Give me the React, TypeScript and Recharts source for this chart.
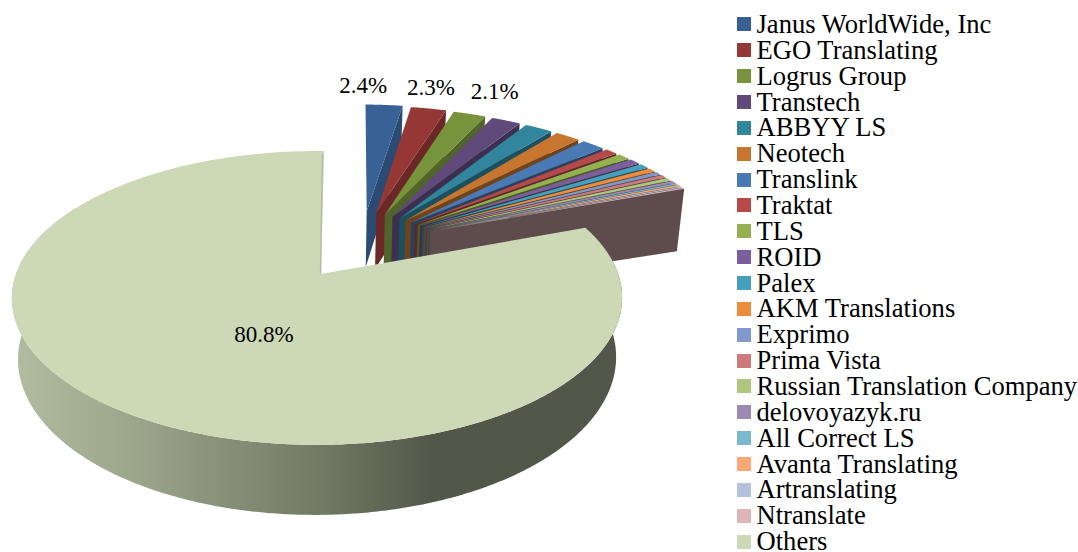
import { Legend, Pie, PieChart } from "recharts";

const companies = [
  "Janus WorldWide, Inc", "EGO Translating", "Logrus Group", "Transtech", "ABBYY LS", "Neotech", "Translink",
  "Traktat", "TLS", "ROID", "Palex", "AKM Translations", "Exprimo", "Prima Vista", "Russian Translation Company",
  "delovoyazyk.ru", "All Correct LS", "Avanta Translating", "Artranslating", "Ntranslate", "Others",
];
const shares = [2.4, 2.3, 2.1, 1.9, 1.8, 1.6, 1.5, 0.8, 0.8, 0.7, 0.6, 0.5, 0.4, 0.4, 0.4, 0.3, 0.2, 0.2, 0.15, 0.15, 80.8];
const colors = [
  "#386296", "#953735", "#77933c", "#604a7b", "#31859c", "#c6762f", "#4a7ab5", "#b54a48", "#93b150", "#7b5f9c",
  "#46a0bb", "#ec8c3d", "#7f9aca", "#cc7b7a", "#aec77f", "#9d87b4", "#79b8cf", "#f9a974", "#b2c1dd", "#deb5b4", "#cdd8b6",
];

const chartData = companies.map((name, i) => ({ name, value: shares[i], fill: colors[i] }));

// perspective of the tilted disc, in units of the pie radius
const FAR_K = 0.163;
const SIDE_K = 0.013;
const X_STRETCH = 2.105;
const DEPTH = 58.6;
const BASE_NARROW = 0.98;
const EXPLODE = 0.5;
const OTHERS_TURN = 0.7;
const LABEL_MIN = 2;
const RAD = Math.PI / 180;

type Pt = [number, number];

function project(cx: number, cy: number, radius: number, X: number, Y: number, lower = false, tall = false): Pt {
  const w = 1 + FAR_K * Y + SIDE_K * X;
  const dx = (radius * X_STRETCH * X) / w;
  const dy = (radius * Y) / w;
  if (!lower) return [cx + dx, cy - dy];
  const depth = (DEPTH * (tall ? 1 + 0.15 * X : 1)) / w;
  return [cx + dx * BASE_NARROW, cy - dy + depth];
}

function explodeOffset(midPhi: number): Pt {
  const dir = (17 + 0.49 * midPhi) * RAD;
  return [EXPLODE * Math.sin(dir), EXPLODE * Math.cos(dir)];
}

function arcPoints(from: number, to: number) {
  const out: number[] = [];
  const steps = Math.max(2, Math.ceil((to - from) * 2));
  for (let i = 0; i <= steps; i++) out.push(from + ((to - from) * i) / steps);
  return out;
}

const toPath = (pts: Pt[]) => "M" + pts.map((p) => p[0].toFixed(2) + " " + p[1].toFixed(2)).join("L") + "Z";

function shade(hex: string, f: number) {
  const n = parseInt(hex.slice(1), 16);
  const c = [(n >> 16) & 255, (n >> 8) & 255, n & 255].map((v) => Math.round(v * f));
  return `rgb(${c[0]},${c[1]},${c[2]})`;
}

function Slice3D(props: any) {
  const { cx, cy, outerRadius, startAngle, endAngle, fill, name } = props;
  const from = 90 - startAngle;
  const to = 90 - endAngle;

  if (name === "Others") {
    const top = (phi: number) => project(cx, cy, outerRadius, Math.sin(phi * RAD), Math.cos(phi * RAD));
    const low = (phi: number) => project(cx, cy, outerRadius, Math.sin(phi * RAD), Math.cos(phi * RAD), true);
    const arc = arcPoints(from + OTHERS_TURN, to + OTHERS_TURN);
    // the wall stops on the back left, where the top face hides it anyway
    const wallArc = arc.filter((phi) => phi < 300);
    const wall = [...wallArc.map(top), ...[...wallArc].reverse().map(low)];
    const face: Pt[] = [[cx, cy], ...arc.map(top)];
    return (
      <g>
        <defs>
          <linearGradient id="othersWall" gradientUnits="userSpaceOnUse" x1={18} x2={620} y1={0} y2={0}>
            <stop offset="0" stopColor="#b1bba0" />
            <stop offset="0.2" stopColor="#9ba58a" />
            <stop offset="0.5" stopColor="#727a64" />
            <stop offset="0.69" stopColor="#53574a" />
            <stop offset="1" stopColor="#53574a" />
          </linearGradient>
        </defs>
        <path d={toPath(wall)} fill="url(#othersWall)" />
        <path d={toPath(face)} fill={fill} />
        <path d={`M${cx + 1.5} ${cy - 120}L${cx - 0.5} ${cy}`} stroke="#b4bea3" strokeWidth={1.5} fill="none" />
      </g>
    );
  }

  const [ox, oy] = explodeOffset((from + to) / 2);
  // rims of the exploded slices sit slightly further out than the plain disc
  const rim = (phi: number, lower = false) =>
    project(cx, cy, outerRadius, ox + 0.02 + 1.02 * Math.sin(phi * RAD), oy + Math.cos(phi * RAD), lower, true);
  const apexTop = project(cx, cy, outerRadius, ox, oy);
  const apexLow = project(cx, cy, outerRadius, ox, oy, true, true);
  const light = 0.82 - (to / 69) * 0.4;
  const endWall: Pt[] = [apexTop, rim(to), rim(to, true), apexLow];
  const face: Pt[] = [apexTop, ...arcPoints(from, to).map((p) => rim(p))];
  return (
    <g>
      <path d={toPath(endWall)} fill={shade(fill, light)} />
      <path d={toPath(face)} fill={fill} />
    </g>
  );
}

const labelNudge: Record<string, Pt> = {
  "Janus WorldWide, Inc": [-17, -8],
  "EGO Translating": [3, -9],
  "Logrus Group": [23, -11],
  Others: [2, 20],
};

function SliceLabel(props: any) {
  const { cx, cy, outerRadius, startAngle, endAngle, name, value } = props;
  if (value < LABEL_MIN) return null;
  const midPhi = 90 - (startAngle + endAngle) / 2;
  const [ox, oy] = name === "Others" ? [0, 0] : explodeOffset(midPhi);
  const reach = name === "Others" ? 0.33 : 1.13;
  const pos = project(cx, cy, outerRadius, ox + reach * Math.sin(midPhi * RAD), oy + reach * Math.cos(midPhi * RAD));
  const n = labelNudge[name] ?? [0, 0];
  return (
    <text x={pos[0] + n[0]} y={pos[1] + n[1]} textAnchor="middle" dominantBaseline="central" fontSize={23} fill="#000">
      {value.toFixed(1)}%
    </text>
  );
}

function LegendList({ payload }: any) {
  return (
    <div>
      {(payload ?? []).map((p: any) => (
        <div key={p.value} style={{ height: 25.87, display: "flex", alignItems: "center", whiteSpace: "nowrap" }}>
          <span style={{ width: 14, height: 14, marginRight: 5.5, background: p.color, display: "inline-block" }} />
          <span style={{ fontSize: 26.6, lineHeight: "25px", color: "#000" }}>{p.value}</span>
        </div>
      ))}
    </div>
  );
}

export default function App() {
  return (
    <div style={{ position: "absolute", left: 0, top: 0, width: 1078, height: 552, fontFamily: "'Liberation Serif', serif" }}>
      <PieChart width={1078} height={552} margin={{ top: 0, right: 0, bottom: 0, left: 0 }}>
        <Pie
          data={chartData}
          dataKey="value"
          nameKey="name"
          cx={321}
          cy={274}
          outerRadius={143}
          startAngle={90}
          endAngle={-270}
          stroke="none"
          shape={Slice3D}
          label={SliceLabel}
          labelLine={false}
          isAnimationActive={false}
        />
        <Legend
          layout="vertical"
          content={LegendList}
          itemSorter={null}
          wrapperStyle={{ position: "absolute", left: 737, top: 11.5, width: 341 }}
        />
      </PieChart>
    </div>
  );
}
